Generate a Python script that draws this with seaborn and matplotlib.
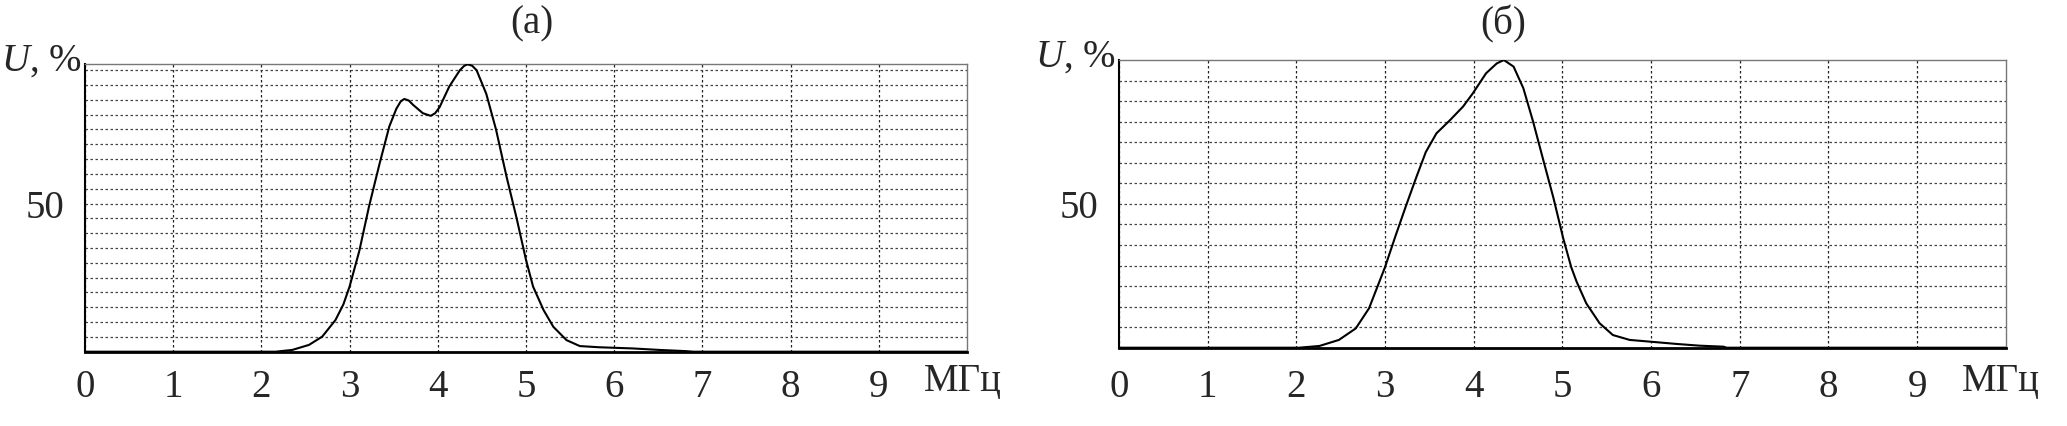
import numpy as np
import pandas as pd
import matplotlib
matplotlib.use("Agg")
import matplotlib.pyplot as plt
from matplotlib.ticker import MultipleLocator, FixedLocator
import seaborn as sns

# ---- data ----
freq_a = [0.0, 1.0, 2.0, 2.16, 2.35, 2.54, 2.69, 2.84, 2.93, 3.0, 3.11, 3.22, 3.34, 3.45,
          3.53, 3.58, 3.62, 3.67, 3.72, 3.83, 3.92, 3.97, 4.02, 4.13, 4.25, 4.30, 4.34,
          4.39, 4.44, 4.55, 4.66, 4.78, 4.89, 5.0, 5.08, 5.2, 5.31, 5.46, 5.61, 5.83,
          6.21, 6.51, 6.81, 6.9, 10.0]
u_a = [0, 0, 0, 0, 0.6, 2.3, 5.1, 10.7, 16, 22, 34, 49, 63.5, 76,
       82, 84.5, 85.3, 84.8, 83.3, 80.5, 79.6, 80.5, 82.5, 89.5, 95, 96.5, 97,
       96.5, 95, 87, 75, 59, 45.5, 31, 22, 14, 8.4, 3.9, 1.9, 1.5,
       1.1, 0.6, 0.2, 0, 0]

freq_b = [0.0, 1.0, 2.03, 2.26, 2.48, 2.67, 2.82, 3.0, 3.12, 3.24, 3.35, 3.46, 3.58, 3.73,
          3.88, 3.99, 4.14, 4.26, 4.34, 4.45, 4.56, 4.67, 4.78, 4.9, 5.01, 5.1, 5.16,
          5.27, 5.42, 5.57, 5.76, 5.99, 6.29, 6.55, 6.82, 6.85, 10.0]
u_b = [0, 0, 0, 0.6, 2.7, 6.7, 13.7, 28, 39, 49.6, 59, 68, 74.5, 79,
       83.8, 88.4, 95.4, 98.8, 100, 97.7, 90.2, 78.6, 65.8, 52, 38, 28, 23,
       15.4, 8.5, 4.4, 2.7, 2.1, 1.3, 0.7, 0.35, 0, 0]

x_ticks = [0, 1, 2, 3, 4, 5, 6, 7, 8, 9]
y_ticks = [50]
titles = ["(a)", "(б)"]
ylabel_text = "$U$, %"
xunit_text = "МГц"

sns.set_style("white")
plt.rcParams["font.family"] = ["Liberation Serif", "DejaVu Serif"]
plt.rcParams["mathtext.fontset"] = "custom"
plt.rcParams["mathtext.it"] = "Liberation Serif:italic"
plt.rcParams["mathtext.rm"] = "Liberation Serif"

FS = 28
fig = plt.figure(figsize=(20.67, 4.26), dpi=100)

ax_a = fig.add_axes([85 / 2067, 1 - 351.7 / 426, (967 - 85) / 2067, (351.7 - 64.3) / 426])
ax_b = fig.add_axes([1119 / 2067, 1 - 347.7 / 426, (2005.7 - 1119) / 2067, (347.7 - 60) / 426])

panels = [
    (ax_a, freq_a, u_a, 97.0, MultipleLocator(5), 532, 8.5, -0.102),
    (ax_b, freq_b, u_b, 100.0, FixedLocator([k * 100 / 14 for k in range(1, 14)]), 1503, 11.5, -0.116),
]

for i, (ax, fx, uy, ytop, yminor, title_x, xpad, unit_y) in enumerate(panels):
    df = pd.DataFrame({"f": fx, "u": uy})
    sns.lineplot(data=df, x="f", y="u", ax=ax, color="black", linewidth=1.5, sort=False,
                 estimator=None, zorder=5)
    ax.set_xlim(0, 10)
    ax.set_ylim(0, ytop)
    ax.set_xlabel("")
    ax.set_ylabel("")

    ax.xaxis.set_major_locator(FixedLocator(x_ticks))
    ax.set_xticklabels([str(t) for t in x_ticks])
    ax.xaxis.set_minor_locator(MultipleLocator(0.2))
    ax.yaxis.set_major_locator(FixedLocator(y_ticks))
    ax.set_yticklabels([str(t) for t in y_ticks])
    ax.yaxis.set_minor_locator(yminor)

    ax.tick_params(axis="x", which="major", direction="out", length=4, width=0.8,
                   color="#777777", labelsize=FS, pad=xpad)
    ax.tick_params(axis="x", which="minor", direction="out", length=3, width=0.6,
                   color="#999999")
    ax.tick_params(axis="y", which="major", direction="out", length=13, width=0.8,
                   color="#777777", labelsize=FS, pad=2)
    ax.tick_params(axis="y", which="minor", length=0)

    ax.grid(True, which="major", axis="x", color="#222222", linestyle=(0, (2, 2)),
            linewidth=0.9)
    ax.grid(True, which="both", axis="y", color="#444444", linestyle=(0, (2, 2)),
            linewidth=0.9)

    ax.spines["left"].set_color("black")
    ax.spines["left"].set_linewidth(1.5)
    ax.spines["bottom"].set_color("black")
    ax.spines["bottom"].set_linewidth(2.0)
    ax.spines["top"].set_color("#777777")
    ax.spines["top"].set_linewidth(1.0)
    ax.spines["right"].set_color("#777777")
    ax.spines["right"].set_linewidth(1.0)

    # axis captions
    ax.text(-0.004, 1.01, ylabel_text, transform=ax.transAxes, ha="right", va="center",
            fontsize=FS)
    ax.text(0.995, unit_y, xunit_text, transform=ax.transAxes, ha="center", va="center",
            fontsize=FS)
    fig.text(title_x / 2067, 1 - 24 / 426, titles[i], ha="center", va="center", fontsize=FS)

fig.savefig("out.png", dpi=100)
